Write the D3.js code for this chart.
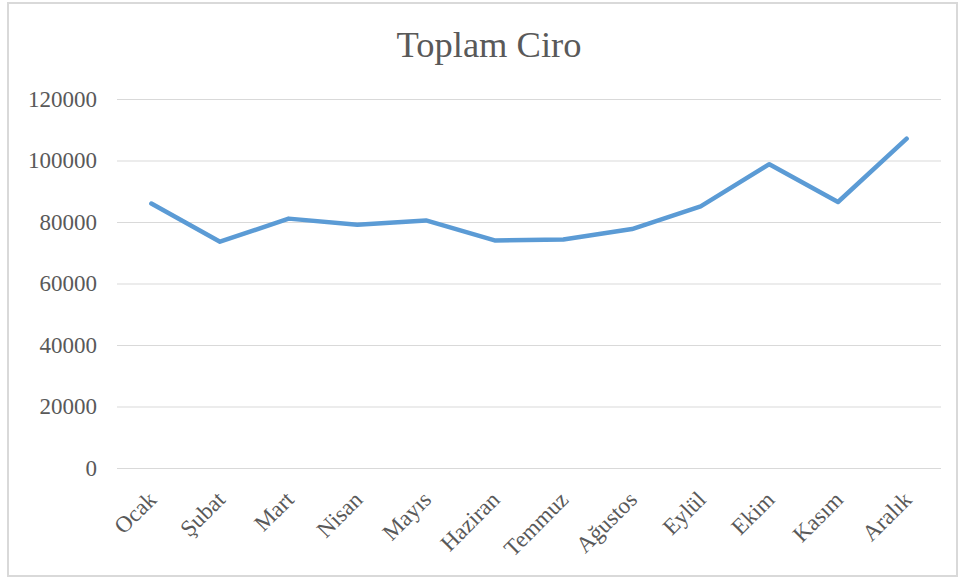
<!DOCTYPE html>
<html lang="tr">
    <head>
        <meta charset="utf-8">
        <title>Toplam Ciro</title>
        <script src="https://cdn.jsdelivr.net/npm/d3@7"></script>
        <style>
            body { margin: 0; background: #fff; }
        </style>
    </head>
    <body>
        <script>
            const months = ["Ocak","Şubat","Mart","Nisan","Mayıs","Haziran","Temmuz","Ağustos","Eylül","Ekim","Kasım","Aralık"]
            const ciro = [86000, 73600, 81100, 79100, 80500, 74000, 74300, 77700, 85100, 98800, 86500, 107100]
            const yTicks = [0, 20000, 40000, 60000, 80000, 100000, 120000]

            const w = 960
            const h = 580
            const plotLeft = 117, plotRight = 941, plotTop = 99, plotBottom = 468
            const font = "'Liberation Serif', 'Times New Roman', serif"
            const grey = "#595959"

            let svg = d3.select("body").append("svg")
                .attr("width", w)
                .attr("height", h)

            // outer frame
            svg.append("rect")
                .attr("x", 8).attr("y", 3)
                .attr("width", 949).attr("height", 573)
                .attr("fill", "white")
                .attr("stroke", "#d9d9d9")
                .attr("stroke-width", 2)

            svg.append("text")
                .attr("x", 489).attr("y", 57)
                .attr("text-anchor", "middle")
                .attr("font-family", font)
                .attr("font-size", "36.5px")
                .attr("fill", grey)
                .text("Toplam Ciro")

            let x = d3.scalePoint().domain(months).range([plotLeft, plotRight]).padding(0.5)
            let y = d3.scaleLinear().domain([0, 120000]).range([plotBottom, plotTop])

            // gridlines + y labels
            let yAxis = svg.append("g")
                .attr("transform", `translate(${plotLeft},0)`)
                .call(d3.axisLeft(y).tickValues(yTicks).tickSize(-(plotRight - plotLeft)).tickPadding(20).tickFormat(d3.format("d")))
            yAxis.select(".domain").remove()
            yAxis.selectAll("line").attr("stroke", "#d9d9d9").attr("stroke-width", 1)
            yAxis.selectAll("text")
                .attr("font-family", font)
                .attr("font-size", "23px")
                .attr("fill", grey)

            // x labels
            let xAxis = svg.append("g")
                .attr("transform", `translate(0,${plotBottom})`)
                .call(d3.axisBottom(x).tickSize(0).tickPadding(0))
            xAxis.select(".domain").remove()
            xAxis.selectAll("text")
                .attr("font-family", font)
                .attr("font-size", "23px")
                .attr("fill", grey)
                .attr("text-anchor", "end")
                .attr("dy", 0)
                .attr("transform", "translate(6,33) rotate(-45)")

            let line = d3.line()
                .x((d, i) => x(months[i]))
                .y(d => y(d))

            svg.append("path")
                .datum(ciro)
                .attr("d", line)
                .attr("fill", "none")
                .attr("stroke", "#5b9bd5")
                .attr("stroke-width", 4.5)
                .attr("stroke-linejoin", "round")
                .attr("stroke-linecap", "round")
        </script>
    </body>
</html>
